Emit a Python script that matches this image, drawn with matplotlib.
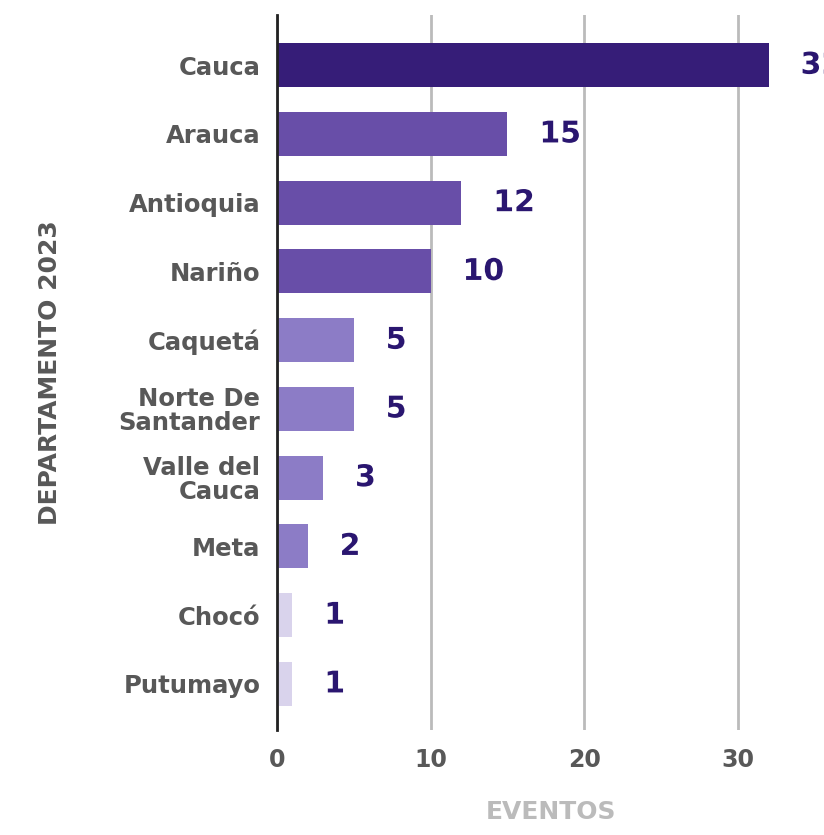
import matplotlib.pyplot as plt
import matplotlib.patheffects as pe

plt.rcParams["font.family"] = ["DejaVu Sans"]

# Datos
departamentos = ["Cauca", "Arauca", "Antioquia", "Nariño", "Caquetá",
                 "Norte De\nSantander", "Valle del\nCauca", "Meta", "Chocó", "Putumayo"]
eventos = [32, 15, 12, 10, 5, 5, 3, 2, 1, 1]
colores = ["#361d78", "#684ea8", "#684ea8", "#684ea8", "#8c7cc6",
           "#8c7cc6", "#8c7cc6", "#8c7cc6", "#d9d3ec", "#d9d3ec"]

fig = plt.figure(figsize=(8.24, 8.35), dpi=100)
ax = fig.add_axes([277 / 824, 1 - 730 / 835, 1 - 277 / 824, (730 - 15) / 835])

pos = list(range(len(departamentos)))
ax.barh(pos, eventos, height=0.64, color=colores, zorder=3)

ax.set_ylim(9.67, -0.73)
ax.set_xlim(0, 35.6)
ax.set_xticks([0, 10, 20, 30])
ax.set_yticks(pos)
ax.set_yticklabels(departamentos, fontsize=17.5, fontweight="bold", color="#585858",
                   linespacing=1.0)
for t in ax.get_yticklabels():
    t.set_horizontalalignment("right")
    t.set_multialignment("right")
ax.tick_params(axis="x", labelsize=17, labelcolor="#585858", length=0, pad=13)
ax.tick_params(axis="y", length=0, pad=12)
for t in ax.get_xticklabels():
    t.set_fontweight("bold")

ax.grid(axis="x", color="#bbbbbb", linewidth=2, zorder=0)
for s in ["top", "right", "bottom"]:
    ax.spines[s].set_visible(False)
ax.spines["left"].set_color("#222222")
ax.spines["left"].set_linewidth(2)
ax.spines["left"].set_zorder(4)

# Etiquetas de valores
for i, v in enumerate(eventos):
    ax.annotate(str(v), (v, i), xytext=(23, 0), textcoords="offset points",
                ha="left", va="center", fontsize=21.5, fontweight="bold", color="#2a1670",
                path_effects=[pe.withStroke(linewidth=4, foreground="white")],
                annotation_clip=False)

ax.set_ylabel("DEPARTAMENTO 2023", fontsize=18, fontweight="bold", color="#585858")
ax.yaxis.set_label_coords((62 - 277) / 547, 0.5)
ax.set_xlabel("EVENTOS", fontsize=18, fontweight="bold", color="#bbbbbb", labelpad=20)

plt.savefig("out.png", dpi=100)
